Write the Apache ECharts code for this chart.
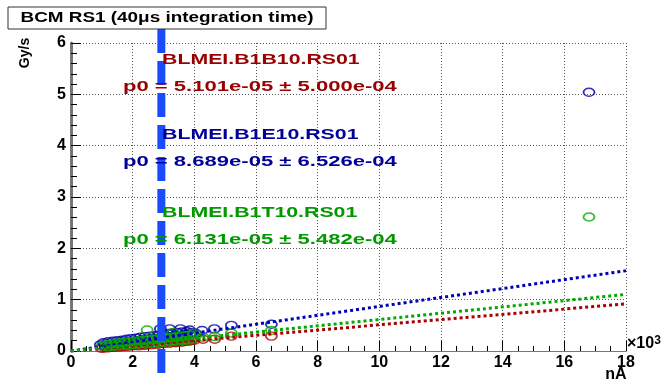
<!DOCTYPE html>
<html>
<head>
<meta charset="utf-8">
<script src="https://cdn.jsdelivr.net/npm/echarts@6/dist/echarts.min.js"></script>
<style>html,body{margin:0;padding:0;background:#fff}#c{width:667px;height:381px}</style>
</head>
<body>
<div id="c"></div>
<script>
// x in units of 10^3 nA, y in Gy/s
var xTicks = [0, 2, 4, 6, 8, 10, 12, 14, 16, 18];
var yTicks = [0, 1, 2, 3, 4, 5, 6];

var redPoints = [
  [1.0,0.05],[1.1,0.06],[1.2,0.06],[1.3,0.07],[1.4,0.07],[1.5,0.08],[1.6,0.08],[1.7,0.09],[1.8,0.09],
  [1.9,0.10],[2.0,0.10],[2.1,0.11],[2.2,0.10],[2.3,0.12],[2.4,0.11],[2.5,0.13],[2.6,0.12],[2.7,0.14],
  [2.8,0.13],[2.9,0.15],[3.0,0.14],[3.1,0.16],[3.2,0.15],[3.3,0.17],[3.4,0.16],[3.5,0.18],[3.6,0.17],
  [3.7,0.19],[3.8,0.19],[3.9,0.20],[4.0,0.21],[4.28,0.23],[4.66,0.23],[5.2,0.29],[6.5,0.29]
];
var bluePoints = [
  [0.95,0.12],[1.05,0.16],[1.2,0.18],[1.35,0.19],[1.5,0.20],[1.65,0.21],[1.8,0.23],[1.95,0.24],
  [2.1,0.25],[2.25,0.27],[2.4,0.28],[2.55,0.29],[2.7,0.30],[2.85,0.31],[2.9,0.43],[3.0,0.33],
  [3.15,0.34],[3.2,0.43],[3.3,0.35],[3.45,0.36],[3.55,0.43],[3.6,0.37],[3.75,0.38],[3.85,0.41],
  [3.9,0.36],[4.05,0.34],[4.25,0.40],[4.65,0.43],[5.2,0.50],[6.5,0.52],[16.8,5.04],
  [1.1,0.12],[1.3,0.14],[1.5,0.15],[1.7,0.17],[1.9,0.19],[2.1,0.20],[2.3,0.22],[2.5,0.23],
  [2.7,0.25],[2.9,0.26],[3.1,0.28],[3.3,0.29],[3.5,0.31],[3.7,0.32],[3.9,0.33]
];
var greenPoints = [
  [1.0,0.10],[1.15,0.12],[1.3,0.14],[1.45,0.15],[1.6,0.16],[1.75,0.17],[1.9,0.18],[2.05,0.19],
  [2.2,0.20],[2.35,0.21],[2.47,0.41],[2.5,0.22],[2.65,0.23],[2.8,0.24],[2.95,0.25],[3.1,0.26],
  [3.25,0.27],[3.3,0.36],[3.4,0.28],[3.55,0.29],[3.7,0.30],[3.85,0.31],[3.95,0.34],[4.05,0.30],
  [4.28,0.27],[4.66,0.28],[5.2,0.35],[6.5,0.40],[16.8,2.61],
  [1.2,0.08],[1.35,0.09],[1.5,0.10],[1.65,0.11],[1.8,0.11],[1.95,0.12],[2.1,0.13],[2.25,0.14],
  [2.4,0.14],[2.55,0.15],[2.7,0.15],[2.85,0.16],[3.0,0.17],[3.15,0.18],[3.3,0.19],[3.45,0.20],
  [3.6,0.20],[3.75,0.21],[3.9,0.22]
];
var redFit = [[0,0],[18,0.918]];
var blueFit = [[0,0],[18,1.564]];
var greenFit = [[0,0],[18,1.104]];
var cutLine = [[2.93,6.273],[2.93,-0.43]];

var seriesNames = ['BLMEI.B1B10.RS01','BLMEI.B1E10.RS01','BLMEI.B1T10.RS01'];
var fitTexts = ['p0 = 5.101e-05 \u00b1 5.000e-04','p0 = 8.689e-05 \u00b1 6.526e-04','p0 = 6.131e-05 \u00b1 5.482e-04'];
var titleText = 'BCM RS1 (40\u03bcs integration time)';

var RED = '#990000', BLUE = '#000099', GREEN = '#009900';
var FONT = '"Liberation Sans", Arial, Helvetica, sans-serif';

function scat(name, data, color) {
  return {type:'scatter', name:name, data:data, symbol:'circle', symbolSize:[11,8],
    itemStyle:{color:'rgba(0,0,0,0)', borderColor:color, borderWidth:1.6}, z:3, silent:true};
}
function fit(data, color) {
  return {type:'line', data:data, symbol:'none', z:4, silent:true,
    lineStyle:{color:color, width:3, type:[3,3]}};
}
function label(x, y, text, color, sx) {
  return {type:'text', x:x, y:y, scaleX:sx, z:100,
    style:{text:text, fill:color, font:'bold 15px ' + FONT, textAlign:'left', textVerticalAlign:'middle'}};
}

var chart = echarts.init(document.getElementById('c'), null, {renderer:'canvas'});
chart.setOption({
  animation:false,
  backgroundColor:'#fff',
  grid:{left:71, right:41, top:43, bottom:30},
  xAxis:[{type:'value', min:xTicks[0], max:xTicks[xTicks.length-1], interval:2,
    axisLine:{onZero:false, lineStyle:{color:'#000', width:1}},
    axisTick:{inside:true, length:10, lineStyle:{color:'#000'}},
    minorTick:{show:true, splitNumber:4, length:5, lineStyle:{color:'#000'}},
    axisLabel:{color:'#000', fontFamily:FONT, fontWeight:'bold', fontSize:16, margin:4},
    splitLine:{show:true, lineStyle:{color:'#555', type:[1,2], width:1}}},
   {type:'value', position:'top', min:0, max:18, axisLine:{show:true, lineStyle:{color:'#777', width:1}},
    axisTick:{show:false}, axisLabel:{show:false}, splitLine:{show:false}}],
  yAxis:[{type:'value', min:yTicks[0], max:yTicks[yTicks.length-1], interval:1,
    axisLine:{show:true, onZero:false, lineStyle:{color:'#000', width:1}},
    axisTick:{show:true, inside:true, length:10, lineStyle:{color:'#000'}},
    minorTick:{show:true, splitNumber:5, length:6, lineStyle:{color:'#000'}},
    axisLabel:{color:'#000', fontFamily:FONT, fontWeight:'bold', fontSize:16, margin:5},
    splitLine:{show:true, lineStyle:{color:'#555', type:[1,2], width:1}}},
   {type:'value', position:'right', min:0, max:6, axisLine:{show:true, lineStyle:{color:'#777', width:3}},
    axisTick:{show:false}, axisLabel:{show:false}, splitLine:{show:false}}],
  series:[
    scat(seriesNames[0], redPoints, '#aa0000'),
    scat(seriesNames[1], bluePoints, '#0000aa'),
    scat(seriesNames[2], greenPoints, '#00aa00'),
    fit(redFit, '#aa0000'),
    fit(blueFit, '#0000bb'),
    fit(greenFit, '#00aa00'),
    {type:'line', data:cutLine, symbol:'none', clip:false, z:20, silent:true,
     lineStyle:{color:'#1a4cff', width:8, type:[24,8], cap:'butt'}}
  ],
  graphic:[
    {type:'rect', shape:{x:8, y:7, width:318, height:22}, z:50,
     style:{fill:'#fff', stroke:'#333', lineWidth:1}},
    {type:'text', x:167, y:18.5, scaleX:1.35, z:51,
     style:{text:titleText, fill:'#000', font:'bold 14px ' + FONT, textAlign:'center', textVerticalAlign:'middle'}},
    label(162, 60, seriesNames[0], RED, 1.42),
    label(123, 87, fitTexts[0], RED, 1.47),
    label(162, 135, seriesNames[1], BLUE, 1.42),
    label(123, 162, fitTexts[1], BLUE, 1.47),
    label(162, 213, seriesNames[2], GREEN, 1.42),
    label(123, 240, fitTexts[2], GREEN, 1.47),
    {type:'text', x:25, y:53, rotation:Math.PI/2, z:60,
     style:{text:'Gy/s', fill:'#000', font:'bold 14px ' + FONT, textAlign:'center', textVerticalAlign:'middle'}},
    {type:'text', x:616, y:375, z:60,
     style:{text:'nA', fill:'#000', font:'bold 16px ' + FONT, textAlign:'center', textVerticalAlign:'middle'}},
    {type:'text', x:627, y:344, z:60,
     style:{text:'{a|\u00d710}{b|3}', fill:'#000', textAlign:'left', textVerticalAlign:'middle',
       rich:{a:{font:'bold 16px ' + FONT, fill:'#000'}, b:{font:'bold 12px ' + FONT, fill:'#000', verticalAlign:'top', padding:[0,0,7,0]}}}}
  ]
});
</script>
</body>
</html>
